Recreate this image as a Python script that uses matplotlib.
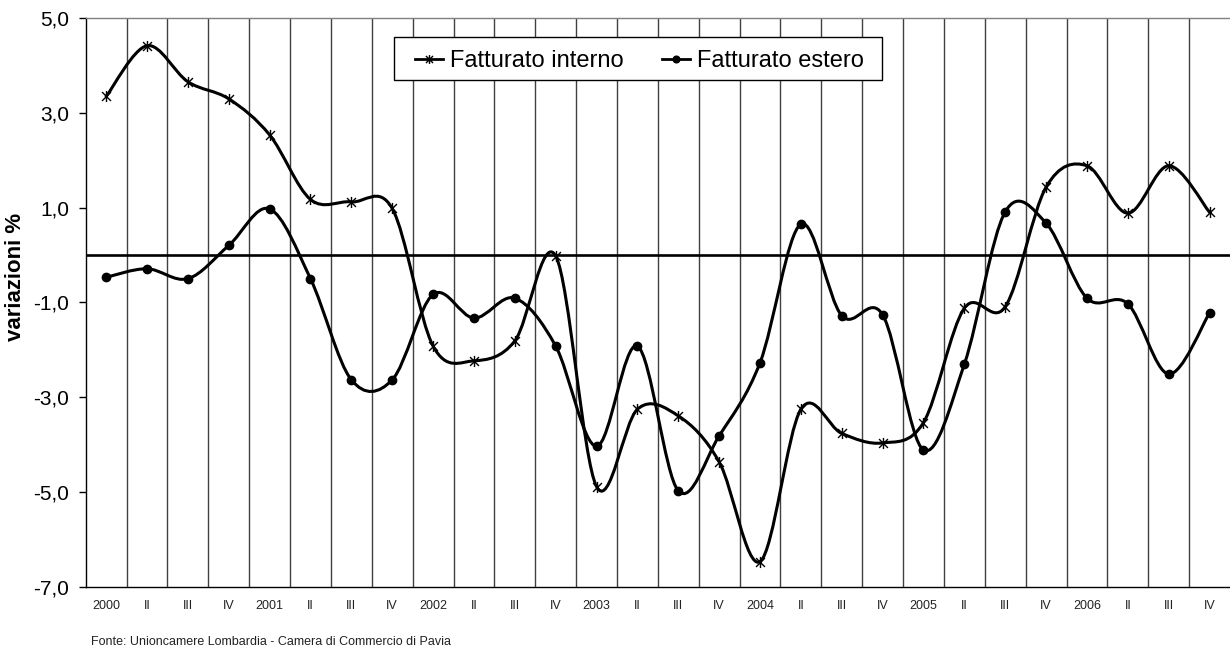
import matplotlib
matplotlib.use("Agg")
import matplotlib.pyplot as plt
from matplotlib.path import Path
from matplotlib.patches import PathPatch, Rectangle
from matplotlib.lines import Line2D
from matplotlib.ticker import FuncFormatter, FixedLocator
import numpy as np

plt.rcParams['font.family'] = ['Liberation Sans', 'DejaVu Sans']

# Quarterly labels 2000 .. 2006
quarters = ["2000", "II", "III", "IV", "2001", "II", "III", "IV",
            "2002", "II", "III", "IV", "2003", "II", "III", "IV",
            "2004", "II", "III", "IV", "2005", "II", "III", "IV",
            "2006", "II", "III", "IV"]

# Percentage changes
fatturato_interno = [3.34, 4.41, 3.65, 3.29, 2.53, 1.17, 1.12, 0.98,
                     -1.92, -2.23, -1.81, -0.02, -4.88, -3.25, -3.39, -4.36,
                     -6.46, -3.25, -3.76, -3.96, -3.53, -1.12, -1.09, 1.43,
                     1.88, 0.88, 1.88, 0.90]
fatturato_estero = [-0.47, -0.29, -0.50, 0.20, 0.97, -0.50, -2.63, -2.63,
                    -0.83, -1.33, -0.91, -1.92, -4.03, -1.92, -4.97, -3.81,
                    -2.27, 0.65, -1.28, -1.26, -4.11, -2.30, 0.91, 0.67,
                    -0.91, -1.03, -2.51, -1.22]

series_names = ["Fatturato interno", "Fatturato estero"]
y_ticks = [-7, -5, -3, -1, 1, 3, 5]

W, H = 1230, 650


def smooth_path(xs, ys):
    """Cubic Bezier path through the points (Catmull-Rom style tangents)."""
    pts = np.column_stack([xs, ys]).astype(float)
    n = len(pts)
    verts = [pts[0]]
    codes = [Path.MOVETO]
    for i in range(n - 1):
        p0 = pts[i - 1] if i > 0 else pts[i]
        p1 = pts[i]
        p2 = pts[i + 1]
        p3 = pts[i + 2] if i + 2 < n else pts[i + 1]
        c1 = p1 + (p2 - p0) / 6.0
        c2 = p2 - (p3 - p1) / 6.0
        verts += [c1, c2, p2]
        codes += [Path.CURVE4] * 3
    return Path(verts, codes)


# Asterisk marker: an x crossed by a vertical stroke
star = Path([(-1, -1), (1, 1), (-1, 1), (1, -1), (0, -1.25), (0, 1.25)],
            [Path.MOVETO, Path.LINETO, Path.MOVETO, Path.LINETO,
             Path.MOVETO, Path.LINETO])

fig = plt.figure(figsize=(W / 100, H / 100), dpi=100)
ax = fig.add_axes([0.0697, 0.0966, 0.9303, 0.8762])

x = np.arange(len(quarters))

# Vertical separators between quarters
for k in range(len(quarters) - 1):
    ax.axvline(k + 0.5, color='#404040', lw=1.0, zorder=1)

# Zero reference line
ax.axhline(0, color='black', lw=1.9, zorder=2)

styles = [dict(marker=star, markersize=8.0, markeredgewidth=1.0),
          dict(marker='o', markersize=6.0, markeredgewidth=1.0)]
for values, st in zip([fatturato_interno, fatturato_estero], styles):
    ax.add_patch(PathPatch(smooth_path(x, values), fill=False,
                           edgecolor='black', lw=2.2, zorder=3,
                           capstyle='round', joinstyle='round'))
    ax.plot(x, values, linestyle='none', color='black',
            markerfacecolor='black', zorder=4, **st)

ax.set_xlim(-0.5, len(quarters) - 0.5)
ax.set_ylim(-7, 5)

ax.xaxis.set_major_locator(FixedLocator(x))
ax.set_xticklabels(quarters, fontsize=9, color='#222222')
ax.tick_params(axis='x', length=0, pad=9.5)

ax.yaxis.set_major_locator(FixedLocator(y_ticks))
ax.yaxis.set_major_formatter(
    FuncFormatter(lambda v, p: f"{v:.1f}".replace('.', ',')))
ax.tick_params(axis='y', direction='out', length=5, width=1,
               labelsize=15, pad=7, color='black')

for side in ['left', 'bottom']:
    ax.spines[side].set_color('black')
    ax.spines[side].set_linewidth(1.0)
ax.spines['top'].set_color('#808080')
ax.spines['top'].set_linewidth(1.0)
ax.spines['right'].set_visible(False)

fig.text(16 / W, 1 - 277 / H, "variazioni %", rotation=90,
         fontsize=16, fontweight='bold', ha='center', va='center')

# Legend box with line + marker samples
fig.patches.append(Rectangle((394 / W, 1 - 80 / H), (882 - 394) / W,
                             (80 - 36.7) / H, transform=fig.transFigure,
                             facecolor='white', edgecolor='black', lw=1.0,
                             zorder=5))
ly = 1 - 58.5 / H
for (x0, name), st in zip([(415, series_names[0]), (662, series_names[1])],
                          styles):
    fig.add_artist(Line2D([x0 / W, (x0 + 28) / W], [ly, ly], color='black',
                          lw=2.0, transform=fig.transFigure, zorder=6))
    s = dict(st)
    s['markersize'] = s['markersize'] * 0.8
    fig.add_artist(Line2D([(x0 + 14) / W], [ly], color='black',
                          markerfacecolor='black', linestyle='none',
                          transform=fig.transFigure, zorder=7, **s))
    fig.text((x0 + 35) / W, ly, name, fontsize=17, ha='left',
             va='center_baseline', zorder=7)

fig.text(91 / W, 1 - 642 / H,
         "Fonte: Unioncamere Lombardia - Camera di Commercio di Pavia",
         fontsize=9, va='center', ha='left', color='#222222')

fig.savefig("out.png", dpi=100)
